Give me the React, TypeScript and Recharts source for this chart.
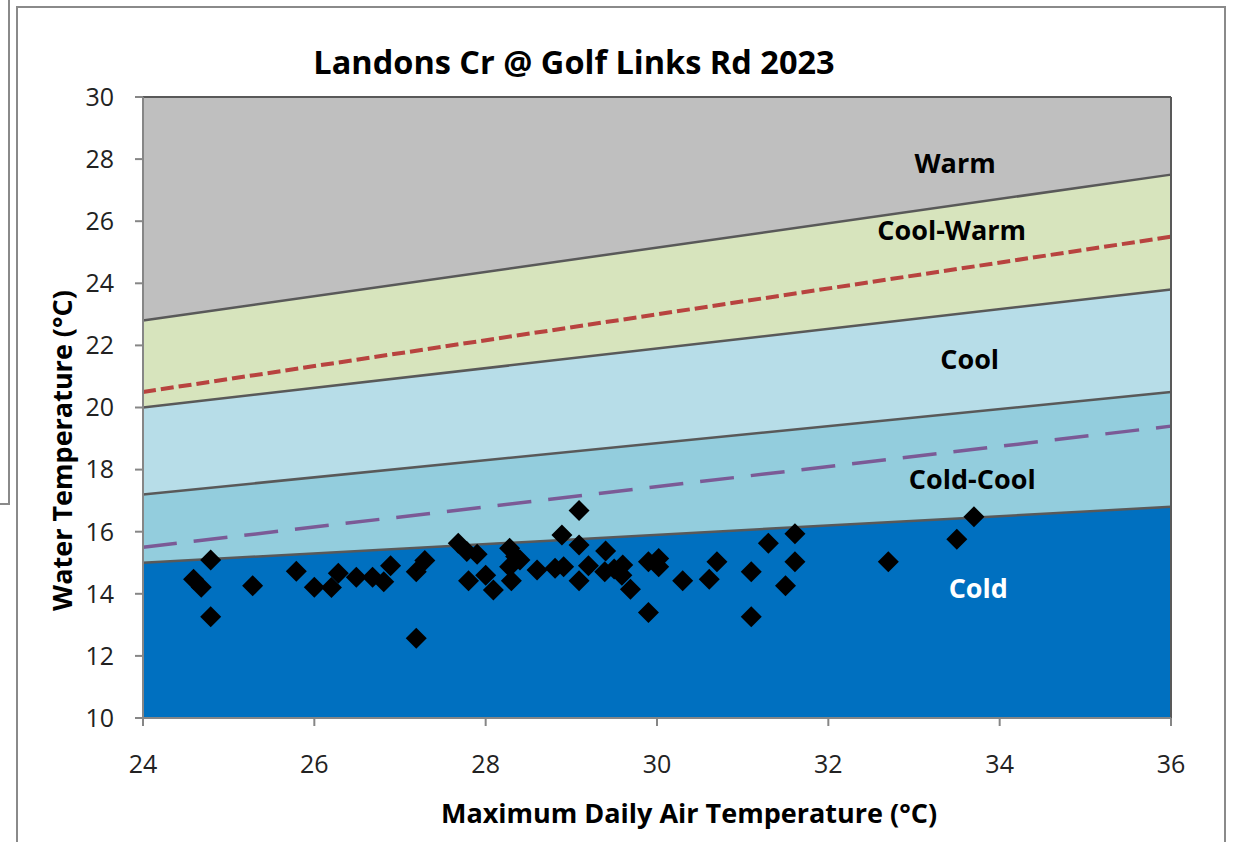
import { ComposedChart, Area, Line, Scatter, XAxis, YAxis, ReferenceLine, ReferenceDot } from 'recharts'

// zone boundaries at the two ends of the x range (24 and 36 °C)
const xEnds = [24, 36]
const warmTop = [30, 30]
const coolWarmTop = [22.8, 27.5]
const coolTop = [20.0, 23.8]
const coldCoolTop = [17.2, 20.5]
const coldTop = [15.0, 16.8]
const redLimit = [20.5, 25.5]
const purpleLimit = [15.5, 19.4]

// observations
const airTemp = [
  24.79, 24.59, 24.68, 24.79, 25.28, 25.79, 26.0, 26.2, 26.28, 26.49, 26.68, 26.81, 26.89, 27.19, 27.29, 27.19,
  27.68, 27.78, 27.9, 27.8, 28.0, 28.09, 28.28, 28.4, 28.28, 28.3, 28.35, 28.6, 28.81, 28.91, 28.89, 29.09,
  29.09, 29.09, 29.2, 29.4, 29.39, 29.5, 29.6, 29.59, 29.69, 29.9, 30.02, 30.02, 29.9, 30.3, 30.7, 30.61,
  31.1, 31.1, 31.3, 31.5, 31.61, 31.61, 32.7, 33.5, 33.7,
]
const waterTemp = [
  15.09, 14.47, 14.21, 13.26, 14.26, 14.73, 14.21, 14.2, 14.66, 14.53, 14.53, 14.39, 14.9, 14.71, 15.07, 12.57,
  15.63, 15.36, 15.27, 14.42, 14.6, 14.12, 15.47, 15.09, 14.87, 14.42, 15.2, 14.77, 14.82, 14.87, 15.89, 16.68,
  15.57, 14.42, 14.9, 15.38, 14.71, 14.8, 14.93, 14.6, 14.15, 15.03, 15.14, 14.87, 13.4, 14.42, 15.03, 14.47,
  14.71, 13.26, 15.63, 14.26, 15.03, 15.93, 15.03, 15.76, 16.48,
]

const xTicks = [24, 26, 28, 30, 32, 34, 36]
const yTicks = [10, 12, 14, 16, 18, 20, 22, 24, 26, 28, 30]

const zoneNames = ['Warm', 'Cool-Warm', 'Cool', 'Cold-Cool', 'Cold']
const zoneLabelX = [33.48, 33.44, 33.65, 33.68, 33.75]
const zoneLabelY = [27.9, 25.72, 21.59, 17.7, 14.19]

const bands = xEnds.map((x, i) => ({
  x,
  warm: warmTop[i],
  coolWarm: coolWarmTop[i],
  cool: coolTop[i],
  coldCool: coldCoolTop[i],
  cold: coldTop[i],
  red: redLimit[i],
  purple: purpleLimit[i],
}))

const points = airTemp.map((x, i) => ({ x, y: waterTemp[i] }))

const FONT = "'Open Sans', 'Noto Sans', sans-serif"
const EDGE = '#595959'
const AXIS = '#868686'

function Diamond(props: any) {
  const { cx, cy } = props
  const r = 10.5
  return <polygon points={`${cx},${cy - r} ${cx + r},${cy} ${cx},${cy + r} ${cx - r},${cy}`} fill="#000" />
}

export default function App() {
  return (
    <div style={{ position: 'absolute', left: 0, top: 0, width: 1236, height: 842, background: '#fff', overflow: 'hidden' }}>
      {/* window frame */}
      <div style={{ position: 'absolute', left: 8, top: 0, width: 2, height: 504, background: '#8a8a8a' }} />
      <div style={{ position: 'absolute', left: 0, top: 503, width: 10, height: 2, background: '#8a8a8a' }} />
      <div style={{ position: 'absolute', left: 16, top: 6, width: 1206, height: 860, border: '2px solid #8a8a8a' }} />

      <div
        style={{
          position: 'absolute', left: 0, width: 1148, top: 40, textAlign: 'center',
          fontFamily: FONT, fontWeight: 700, fontSize: 32.5, color: '#000', lineHeight: '44px',
        }}
      >
        Landons Cr @ Golf Links Rd 2023
      </div>

      <div style={{ position: 'absolute', left: 0, top: 0 }}>
        <ComposedChart width={1236} height={842} data={bands} margin={{ top: 97, right: 65, bottom: 0, left: 20 }}>
          <XAxis
            type="number"
            dataKey="x"
            domain={[24, 36]}
            ticks={xTicks}
            height={124}
            axisLine={{ stroke: AXIS, strokeWidth: 2 }}
            tickLine={{ stroke: AXIS, strokeWidth: 2 }}
            tickSize={8}
            tickMargin={29}
            tick={{ fill: '#222', fontSize: 25, fontFamily: FONT }}
            label={{
              value: 'Maximum Daily Air Temperature (°C)', position: 'center', dx: 32, dy: 33,
              style: { fontFamily: FONT, fontWeight: 700, fontSize: 27, fill: '#000' },
            }}
          />
          <YAxis
            type="number"
            domain={[10, 30]}
            ticks={yTicks}
            width={123}
            axisLine={{ stroke: AXIS, strokeWidth: 2 }}
            tickLine={{ stroke: AXIS, strokeWidth: 2 }}
            tickSize={8}
            tickMargin={21}
            tick={{ fill: '#222', fontSize: 25, fontFamily: FONT }}
            label={{
              value: 'Water Temperature (°C)', angle: -90, position: 'center', dx: -19, dy: 43,
              style: { fontFamily: FONT, fontWeight: 700, fontSize: 27, fill: '#000', textAnchor: 'middle' },
            }}
          />

          <Area dataKey="warm" fill="#BFBFBF" fillOpacity={1} stroke={EDGE} strokeWidth={2} isAnimationActive={false} />
          <Area dataKey="coolWarm" fill="#D7E4BD" fillOpacity={1} stroke={EDGE} strokeWidth={2.5} isAnimationActive={false} />
          <Area dataKey="cool" fill="#B7DDE8" fillOpacity={1} stroke={EDGE} strokeWidth={2.5} isAnimationActive={false} />
          <Area dataKey="coldCool" fill="#93CDDD" fillOpacity={1} stroke={EDGE} strokeWidth={2.5} isAnimationActive={false} />
          <Area dataKey="cold" fill="#0070C0" fillOpacity={1} stroke={EDGE} strokeWidth={2.5} isAnimationActive={false} />

          <Line dataKey="red" stroke="#B8433F" strokeWidth={4} strokeDasharray="13 5" dot={false} isAnimationActive={false} />
          <Line dataKey="purple" stroke="#7B5A96" strokeWidth={3.5} strokeDasharray="34 17" dot={false} isAnimationActive={false} />

          <ReferenceLine x={36} stroke={EDGE} strokeWidth={2} />

          <Scatter data={points} dataKey="y" shape={Diamond} isAnimationActive={false} />

          {zoneNames.map((name, i) => (
            <ReferenceDot
              key={name}
              x={zoneLabelX[i]}
              y={zoneLabelY[i]}
              r={0}
              shape={(p: any) => (
                <text
                  x={p.cx}
                  y={p.cy}
                  textAnchor="middle"
                  dominantBaseline="central"
                  fontFamily={FONT}
                  fontWeight={700}
                  fontSize={27}
                  fill={name === 'Cold' ? '#fff' : '#000'}
                >
                  {name}
                </text>
              )}
            />
          ))}
        </ComposedChart>
      </div>
    </div>
  )
}
